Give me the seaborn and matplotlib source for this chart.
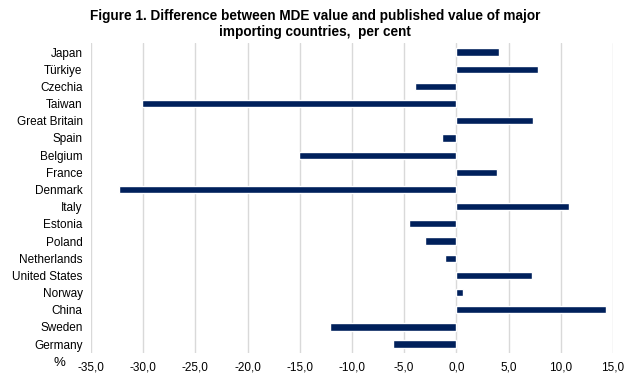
import numpy as np
import pandas as pd
import matplotlib
matplotlib.use("Agg")
import matplotlib.pyplot as plt
import seaborn as sns
from matplotlib.ticker import FuncFormatter

countries = ["Japan", "Türkiye", "Czechia", "Taiwan", "Great Britain", "Spain",
             "Belgium", "France", "Denmark", "Italy", "Estonia", "Poland",
             "Netherlands", "United States", "Norway", "China", "Sweden", "Germany"]
difference = [4.1, 7.8, -4.0, -30.1, 7.3, -1.4,
              -15.1, 3.9, -32.3, 10.8, -4.5, -3.0,
              -1.1, 7.2, 0.6, 14.3, -12.1, -6.1]
x_ticks = [-35, -30, -25, -20, -15, -10, -5, 0, 5, 10, 15]

df = pd.DataFrame({"country": countries, "diff": difference})

sns.set_style("white")
plt.rcParams["font.family"] = ["Liberation Sans", "DejaVu Sans"]
plt.rcParams["text.color"] = "black"

fig, ax = plt.subplots(figsize=(6.43, 3.78), dpi=100)
fig.subplots_adjust(left=0.1415, right=0.9533, top=0.885, bottom=0.067)

sns.barplot(data=df, x="diff", y="country", orient="h", color="#00205B",
            saturation=1, width=0.42, ax=ax)

ax.set_xlim(-35, 15)
ax.set_xticks(x_ticks)
ax.xaxis.set_major_formatter(FuncFormatter(lambda v, p: f"{v:.1f}".replace(".", ",")))
ax.grid(axis="x", color="#D9D9D9", linewidth=1)
ax.set_axisbelow(True)
for s in ax.spines.values():
    s.set_visible(False)
ax.tick_params(axis="both", length=0, labelsize=8.5, colors="black")
ax.tick_params(axis="y", pad=6)
ax.tick_params(axis="x", pad=6)
ax.set_xlabel("")
ax.set_ylabel("")

fig.text(0.093, 0.04, "%", fontsize=9.5, ha="center", va="center")
fig.suptitle("Figure 1. Difference between MDE value and published value of major\nimporting countries,  per cent",
             x=0.49, y=0.975, fontsize=9.8, fontweight="bold", linespacing=1.1,
             color="black")

fig.savefig("out.png", dpi=100)
